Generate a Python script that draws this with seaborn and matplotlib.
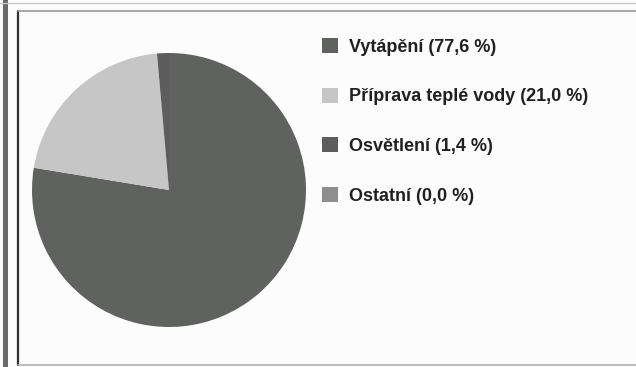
import matplotlib
matplotlib.use("Agg")
import matplotlib.pyplot as plt
import seaborn as sns
from matplotlib.patches import Rectangle
from matplotlib.lines import Line2D

categories = ["Vytápění", "Příprava teplé vody", "Osvětlení", "Ostatní"]
values = [77.6, 21.0, 1.4, 0.0]
colors = ["#606260", "#c6c6c6", "#5c5d5c", "#8e8e8e"]
labels = [f"{c} ({v:.1f} %)".replace(".", ",") for c, v in zip(categories, values)]

sns.set_theme(style="white")
plt.rcParams["font.family"] = ["Liberation Sans Narrow", "Liberation Sans", "DejaVu Sans"]

W, H = 636, 367
fig = plt.figure(figsize=(W / 100, H / 100), dpi=100)
fig.patch.set_facecolor("#fcfcfc")

cx, cy, r = 169, 190, 137
ax = fig.add_axes([(cx - r) / W, 1 - (cy + r) / H, 2 * r / W, 2 * r / H])
wedges, _ = ax.pie(values, colors=colors, startangle=90, counterclock=False,
                   radius=1.0, wedgeprops=dict(linewidth=0))
ax.set_xlim(-1, 1)
ax.set_ylim(-1, 1)
ax.set_aspect("equal")
ax.axis("off")

leg = fig.legend(wedges, labels, loc="upper left",
                 bbox_to_anchor=(322 / W, 1 - 38 / H), frameon=False,
                 prop=dict(weight="bold", size=13), handlelength=0.9,
                 handleheight=0.9, handletextpad=0.6, labelspacing=1.77,
                 borderaxespad=0, borderpad=0)
for t in leg.get_texts():
    t.set_color("#202020")

# scanned frame
fig.add_artist(Rectangle((3 / W, 0), 5 / W, 1, transform=fig.transFigure,
                         facecolor="#6a6a6a", edgecolor="none"))
fig.add_artist(Line2D([18 / W, 18 / W], [0.005, 1 - 11 / H], transform=fig.transFigure,
                      color="#303030", linewidth=1.6))
fig.add_artist(Line2D([18 / W, 1], [1 - 11 / H, 1 - 11 / H], transform=fig.transFigure,
                      color="#9a9a9a", linewidth=1.2))
fig.add_artist(Line2D([0, 1], [1 - 3 / H, 1 - 3 / H], transform=fig.transFigure,
                      color="#c8c8c8", linewidth=1.0))
fig.add_artist(Line2D([18 / W, 1], [2 / H, 2 / H], transform=fig.transFigure,
                      color="#b0b0b0", linewidth=1.2))

fig.savefig("out.png", dpi=100, facecolor=fig.get_facecolor())
